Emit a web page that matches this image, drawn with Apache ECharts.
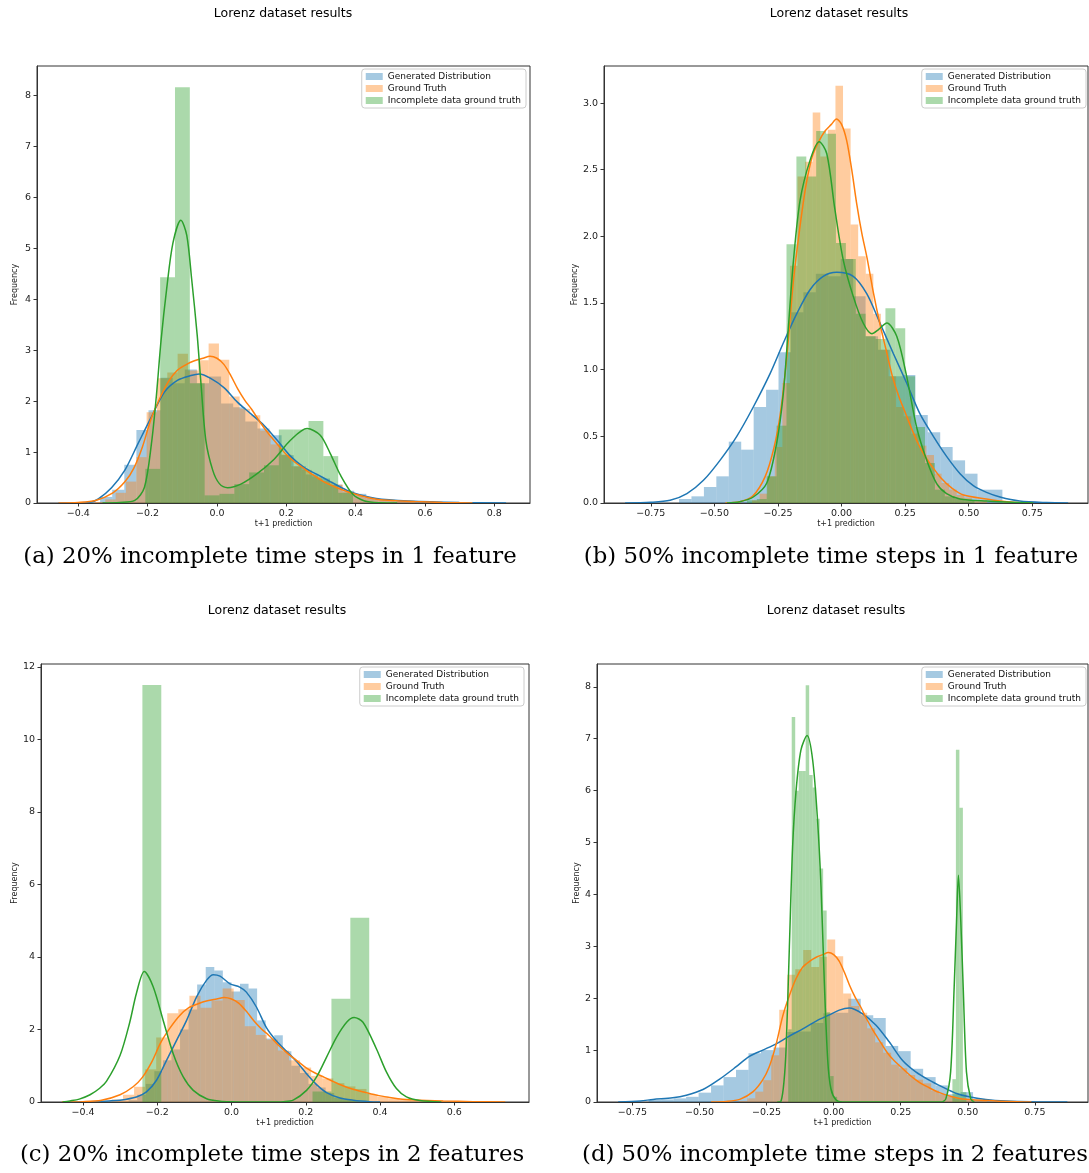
<!DOCTYPE html>
<html>
<head>
<meta charset="utf-8">
<title>Lorenz dataset results</title>
<script src="https://cdn.jsdelivr.net/npm/echarts@6/dist/echarts.min.js"></script>
<style>
  html, body { margin: 0; padding: 0; background: #fff; }
  #chart { width: 1089px; height: 1173px; }
</style>
</head>
<body>
<div id="chart"></div>
<script>
// series names / captions
const seriesNames = ['Generated Distribution', 'Ground Truth', 'Incomplete data ground truth'];
const captions = [
  '(a) 20% incomplete time steps in 1 feature',
  '(b) 50% incomplete time steps in 1 feature',
  '(c) 20% incomplete time steps in 2 features',
  '(d) 50% incomplete time steps in 2 features'
];

// ground truth is the same in every panel
const truthStart = -0.3518, truthWidth = 0.0298;
const truthHist = [0.02, 0.07, 0.2, 0.42, 0.9, 1.78, 2.45, 2.56, 2.93, 2.6, 2.8, 3.13, 2.81, 2.09, 1.85, 1.72,
  1.42, 1.15, 0.95, 0.72, 0.65, 0.52, 0.43, 0.36, 0.22, 0.15, 0.1, 0.06, 0.04, 0.02, 0.02];
const truthKde = [[-0.457, 0], [-0.4, 0.01], [-0.35, 0.05], [-0.3, 0.2], [-0.265, 0.42], [-0.24, 0.68], [-0.215, 1.1],
  [-0.19, 1.65], [-0.165, 2.05], [-0.14, 2.38], [-0.115, 2.6], [-0.09, 2.71], [-0.065, 2.79], [-0.04, 2.84],
  [-0.02, 2.88], [0, 2.84], [0.02, 2.72], [0.04, 2.5], [0.06, 2.24], [0.08, 2.02], [0.1, 1.84], [0.125, 1.58],
  [0.15, 1.35], [0.175, 1.15], [0.2, 0.95], [0.225, 0.8], [0.25, 0.68], [0.275, 0.56], [0.3, 0.45], [0.325, 0.36],
  [0.35, 0.29], [0.39, 0.19], [0.435, 0.11], [0.48, 0.06], [0.57, 0.03], [0.65, 0.01], [0.737, 0]];

// (a) 20% / 1 feature
const xRangeA = [-0.519, 0.903], yRangeA = [0, 8.575];
const xTicksA = [-0.4, -0.2, 0, 0.2, 0.4, 0.6, 0.8];
const yTicksA = [0, 1, 2, 3, 4, 5, 6, 7, 8];
const genStartA = -0.337, genWidthA = 0.0349;
const genHistA = [0.12, 0.26, 0.75, 1.43, 1.82, 2.46, 2.35, 2.62, 2.35, 2.48, 1.95, 1.88, 1.6, 1.46, 1.33, 0.94,
  0.72, 0.56, 0.48, 0.36, 0.24, 0.18, 0.1, 0.07, 0.05, 0.04, 0.03, 0.02];
const genKdeA = [[-0.457, 0], [-0.4, 0.005], [-0.362, 0.02], [-0.342, 0.08], [-0.304, 0.3], [-0.266, 0.64],
  [-0.228, 1.16], [-0.189, 1.69], [-0.151, 2.18], [-0.113, 2.41], [-0.075, 2.5], [-0.051, 2.53], [-0.017, 2.44],
  [0.021, 2.26], [0.059, 1.98], [0.098, 1.75], [0.136, 1.52], [0.174, 1.23], [0.212, 0.92], [0.251, 0.7],
  [0.289, 0.56], [0.327, 0.42], [0.36, 0.3], [0.392, 0.2], [0.459, 0.09], [0.555, 0.04], [0.699, 0.01], [0.834, 0]];
const incStartA = -0.2066, incWidthA = 0.0428;
const incHistA = [0.67, 4.43, 8.16, 2.35, 0.15, 0.18, 0.37, 0.6, 0.74, 1.44, 1.44, 1.61, 0.92, 0.2];
const incKdeA = [[-0.33, 0], [-0.28, 0.01], [-0.237, 0.05], [-0.209, 0.31], [-0.189, 1.16], [-0.175, 2.08],
  [-0.161, 3.2], [-0.145, 4.2], [-0.127, 5.1], [-0.104, 5.55], [-0.087, 5.25], [-0.073, 4.4], [-0.057, 3.3],
  [-0.046, 2.34], [-0.032, 1.23], [-0.012, 0.64], [0.007, 0.38], [0.031, 0.3], [0.069, 0.37], [0.117, 0.58],
  [0.165, 0.86], [0.212, 1.23], [0.26, 1.46], [0.298, 1.33], [0.327, 0.97], [0.356, 0.55], [0.392, 0.17],
  [0.426, 0.04], [0.47, 0.005], [0.52, 0]];

// (b) 50% / 1 feature
const xRangeB = [-0.934, 0.969], yRangeB = [0, 3.278];
const xTicksB = [-0.75, -0.5, -0.25, 0, 0.25, 0.5, 0.75];
const yTicksB = [0, 0.5, 1, 1.5, 2, 2.5, 3];
const genStartB = -0.639, genWidthB = 0.0489;
const genHistB = [0.03, 0.05, 0.12, 0.2, 0.46, 0.4, 0.72, 0.85, 1.13, 1.43, 1.58, 1.72, 1.7, 1.83, 1.55, 1.25,
  1.15, 0.95, 0.96, 0.66, 0.53, 0.42, 0.32, 0.22, 0.1, 0.1];
const genKdeB = [[-0.851, 0], [-0.75, 0.005], [-0.674, 0.02], [-0.608, 0.07], [-0.543, 0.17], [-0.478, 0.32],
  [-0.412, 0.5], [-0.347, 0.72], [-0.281, 0.97], [-0.229, 1.2], [-0.176, 1.42], [-0.124, 1.6], [-0.072, 1.7],
  [-0.019, 1.73], [0.046, 1.7], [0.099, 1.57], [0.151, 1.35], [0.204, 1.12], [0.256, 0.9], [0.308, 0.67],
  [0.361, 0.5], [0.413, 0.35], [0.466, 0.22], [0.518, 0.13], [0.57, 0.08], [0.623, 0.045], [0.7, 0.015],
  [0.806, 0.003], [0.891, 0]];
const incStartB = -0.372, incWidthB = 0.0389;
const incHistB = [0.02, 0.03, 0.2, 0.58, 1.94, 2.6, 2.45, 2.79, 2.77, 1.95, 1.83, 1.42, 1.25, 1.23, 1.46, 1.31,
  0.95, 0.57, 0.3, 0.1, 0.05, 0.03, 0.02];
const incKdeB = [[-0.451, 0], [-0.4, 0.01], [-0.347, 0.045], [-0.294, 0.15], [-0.255, 0.45], [-0.229, 0.82],
  [-0.209, 1.32], [-0.189, 1.82], [-0.163, 2.27], [-0.124, 2.57], [-0.088, 2.71], [-0.058, 2.62], [-0.026, 2.2],
  [0.007, 1.82], [0.046, 1.55], [0.085, 1.35], [0.119, 1.27], [0.145, 1.3], [0.178, 1.35], [0.217, 1.25],
  [0.256, 0.95], [0.295, 0.57], [0.335, 0.32], [0.374, 0.145], [0.413, 0.07], [0.466, 0.03], [0.57, 0.015], [0.754, 0]];

// (c) 20% / 2 features
const xRangeC = [-0.513, 0.801], yRangeC = [0, 12.08];
const xTicksC = [-0.4, -0.2, 0, 0.2, 0.4, 0.6];
const yTicksC = [0, 2, 4, 6, 8, 10, 12];
const genStartC = -0.277, genWidthC = 0.02306;
const genHistC = [0.05, 0.2, 0.5, 0.85, 1.15, 1.45, 2.0, 2.55, 3.24, 3.72, 3.63, 3.3, 3.05, 3.26, 3.13, 2.25,
  1.75, 1.84, 1.4, 1.0, 0.8, 0.5, 0.4, 0.25, 0.12, 0.07, 0.04];
const genKdeC = [[-0.435, 0], [-0.38, 0.01], [-0.33, 0.03], [-0.3, 0.05], [-0.256, 0.14], [-0.229, 0.28],
  [-0.202, 0.6], [-0.175, 1.15], [-0.148, 1.7], [-0.121, 2.25], [-0.094, 2.9], [-0.067, 3.36], [-0.049, 3.51],
  [-0.031, 3.47], [-0.004, 3.26], [0.022, 3.17], [0.04, 3.03], [0.067, 2.62], [0.094, 2.05], [0.121, 1.68],
  [0.148, 1.4], [0.175, 1.12], [0.202, 0.78], [0.229, 0.48], [0.256, 0.26], [0.292, 0.11], [0.328, 0.05],
  [0.372, 0.01], [0.4, 0]];
const incStartC = -0.24, incWidthC = 0.0509;
const incHistC = [11.5, 0, 0, 0, 0, 0, 0, 0, 0, 0.29, 2.85, 5.08];
const incKdeC = [[-0.455, 0], [-0.435, 0.03], [-0.41, 0.08], [-0.381, 0.2], [-0.355, 0.38], [-0.336, 0.58],
  [-0.3, 1.29], [-0.274, 2.2], [-0.256, 3.0], [-0.235, 3.6], [-0.211, 3.18], [-0.184, 2.25], [-0.157, 1.33],
  [-0.13, 0.69], [-0.103, 0.32], [-0.067, 0.09], [-0.031, 0.02], [0, 0.005], [0.05, 0], [0.103, 0], [0.14, 0.01],
  [0.166, 0.05], [0.202, 0.32], [0.229, 0.69], [0.256, 1.24], [0.283, 1.79], [0.31, 2.2], [0.33, 2.33],
  [0.354, 2.2], [0.39, 1.47], [0.417, 0.83], [0.444, 0.37], [0.471, 0.14], [0.507, 0.04], [0.565, 0]];

// (d) 50% / 2 features
const xRangeD = [-0.882, 0.948], yRangeD = [0, 8.44];
const xTicksD = [-0.75, -0.5, -0.25, 0, 0.25, 0.5, 0.75];
const yTicksD = [0, 1, 2, 3, 4, 5, 6, 7, 8];
const genStartD = -0.6894, genWidthD = 0.0465;
const genHistD = [0.04, 0.05, 0.07, 0.1, 0.18, 0.32, 0.48, 0.62, 0.94, 1.0, 1.05, 1.35, 1.36, 1.52, 1.71, 1.72,
  1.99, 1.67, 1.62, 1.08, 0.98, 0.64, 0.48, 0.32, 0.15, 0.19, 0.05, 0.03, 0.02, 0.02, 0.01];
const genKdeD = [[-0.803, 0], [-0.72, 0.02], [-0.673, 0.05], [-0.6, 0.08], [-0.549, 0.13], [-0.487, 0.24],
  [-0.425, 0.44], [-0.363, 0.68], [-0.314, 0.88], [-0.264, 1.0], [-0.214, 1.12], [-0.165, 1.27], [-0.115, 1.41],
  [-0.065, 1.56], [-0.016, 1.68], [0.021, 1.77], [0.058, 1.81], [0.108, 1.7], [0.158, 1.48], [0.207, 1.16],
  [0.257, 0.8], [0.306, 0.58], [0.356, 0.42], [0.405, 0.29], [0.455, 0.17], [0.505, 0.1], [0.567, 0.05],
  [0.641, 0.02], [0.74, 0.005], [0.871, 0]];
const incStartD = -0.1693, incWidthD = 0.01302;
const incHistD = [1.4, 7.42, 6.0, 6.38, 6.38, 8.03, 6.3, 6.06, 5.46, 4.5, 3.69, 1.73, 0.5, 0.1,
  0, 0, 0, 0, 0, 0, 0, 0, 0, 0, 0, 0, 0, 0, 0, 0, 0, 0, 0, 0, 0, 0, 0, 0, 0, 0, 0, 0, 0, 0, 0, 0, 0,
  0.44, 6.79, 5.67, 0.19];
const incKdeD = [[-0.21, 0], [-0.196, 0.02], [-0.185, 0.4], [-0.177, 1.06], [-0.165, 2.99], [-0.153, 4.91],
  [-0.14, 6.0], [-0.122, 6.78], [-0.099, 7.06], [-0.078, 6.58], [-0.06, 5.43], [-0.047, 4.14], [-0.035, 2.34],
  [-0.022, 0.8], [-0.01, 0.25], [0.009, 0.04], [0.033, 0], [0.2, 0], [0.4, 0], [0.418, 0.06], [0.436, 0.58],
  [0.449, 2.19], [0.458, 3.47], [0.465, 4.37], [0.474, 3.47], [0.483, 2.19], [0.495, 0.58], [0.511, 0.06], [0.524, 0]];

const FONT = 'DejaVu Sans';
const lineColors = ['#1f77b4', '#ff7f0e', '#2ca02c'];
const fillColors = ['rgba(31,119,180,0.4)', 'rgba(255,127,14,0.4)', 'rgba(44,160,44,0.4)'];
const axisColor = '#333';

// histogram bars as [x0, x1, height]
function bins(start, width, heights) {
  return heights.map((h, i) => [start + i * width, start + (i + 1) * width, h]);
}

function fmt(dec) {
  return v => (v < 0 ? '\u2212' : '') + Math.abs(v).toFixed(dec);
}

const panels = [
  {
    grid: { left: 37, top: 66, width: 493, height: 437 },
    xRange: xRangeA, yRange: yRangeA, xTicks: xTicksA, yTicks: yTicksA, xDec: 1, yDec: 0, yGap: 18,
    legend: { right: 563, top: 69 }, title: [283, 14], caption: [270, 557],
    hist: [bins(genStartA, genWidthA, genHistA), bins(truthStart, truthWidth, truthHist), bins(incStartA, incWidthA, incHistA)],
    kde: [genKdeA, truthKde, incKdeA]
  },
  {
    grid: { left: 604, top: 66, width: 484, height: 437 },
    xRange: xRangeB, yRange: yRangeB, xTicks: xTicksB, yTicks: yTicksB, xDec: 2, yDec: 1, yGap: 23,
    legend: { right: 3, top: 69 }, title: [839, 14], caption: [831, 557],
    hist: [bins(genStartB, genWidthB, genHistB), bins(truthStart, truthWidth, truthHist), bins(incStartB, incWidthB, incHistB)],
    kde: [genKdeB, truthKde, incKdeB]
  },
  {
    grid: { left: 41, top: 664, width: 488, height: 438 },
    xRange: xRangeC, yRange: yRangeC, xTicks: xTicksC, yTicks: yTicksC, xDec: 1, yDec: 0, yGap: 22,
    legend: { right: 565, top: 667 }, title: [277, 611], caption: [272, 1155],
    hist: [bins(genStartC, genWidthC, genHistC), bins(truthStart, truthWidth, truthHist), bins(incStartC, incWidthC, incHistC)],
    kde: [genKdeC, truthKde, incKdeC]
  },
  {
    grid: { left: 597, top: 664, width: 491, height: 438 },
    xRange: xRangeD, yRange: yRangeD, xTicks: xTicksD, yTicks: yTicksD, xDec: 2, yDec: 0, yGap: 16,
    legend: { right: 3, top: 667 }, title: [836, 611], caption: [835, 1155],
    hist: [bins(genStartD, genWidthD, genHistD), bins(truthStart, truthWidth, truthHist), bins(incStartD, incWidthD, incHistD)],
    kde: [genKdeD, truthKde, incKdeD]
  }
];

function barRenderer(fill) {
  return function (params, api) {
    const a = api.coord([api.value(0), api.value(2)]);
    const b = api.coord([api.value(1), 0]);
    return {
      type: 'rect',
      shape: { x: a[0], y: a[1], width: b[0] - a[0], height: b[1] - a[1] },
      style: { fill: fill }
    };
  };
}

const grid = [], xAxis = [], yAxis = [], series = [], legend = [], graphic = [];

panels.forEach((p, i) => {
  grid.push(Object.assign({ show: true, borderColor: axisColor, borderWidth: 1, backgroundColor: 'transparent' }, p.grid));
  xAxis.push({
    type: 'value', gridIndex: i, min: p.xRange[0], max: p.xRange[1], z: 10,
    axisLine: { show: true, onZero: false, lineStyle: { color: axisColor, width: 1 } },
    axisTick: { show: true, length: 3.5, customValues: p.xTicks, lineStyle: { color: axisColor } },
    axisLabel: { customValues: p.xTicks, formatter: fmt(p.xDec), fontSize: 9.5, fontFamily: FONT, color: '#222', margin: 6 },
    splitLine: { show: false },
    name: 't+1 prediction', nameLocation: 'middle', nameGap: 17,
    nameTextStyle: { fontSize: 8, fontFamily: FONT, color: '#222' }
  });
  yAxis.push({
    type: 'value', gridIndex: i, min: p.yRange[0], max: p.yRange[1], z: 10,
    axisLine: { show: true, onZero: false, lineStyle: { color: axisColor, width: 1 } },
    axisTick: { show: true, length: 3.5, customValues: p.yTicks, lineStyle: { color: axisColor } },
    axisLabel: { customValues: p.yTicks, formatter: fmt(p.yDec), fontSize: 9.5, fontFamily: FONT, color: '#222', margin: 6 },
    splitLine: { show: false },
    name: 'Frequency', nameLocation: 'middle', nameRotate: 90, nameGap: p.yGap,
    nameTextStyle: { fontSize: 8, fontFamily: FONT, color: '#222' }
  });
  for (let s = 0; s < 3; s++) {
    series.push({
      type: 'custom', name: seriesNames[s], xAxisIndex: i, yAxisIndex: i,
      renderItem: barRenderer(fillColors[s]),
      encode: { x: [0, 1], y: 2 },
      itemStyle: { color: fillColors[s] },
      data: p.hist[s], silent: true, clip: true
    });
    series.push({
      type: 'line', name: seriesNames[s] + ' kde', xAxisIndex: i, yAxisIndex: i,
      data: p.kde[s], showSymbol: false, smooth: 0.3, silent: true, clip: true,
      lineStyle: { color: lineColors[s], width: 1.5 }, itemStyle: { color: lineColors[s] }
    });
  }
  legend.push({
    data: seriesNames.map((n, s) => ({ name: n, icon: 'rect', itemStyle: { color: fillColors[s], borderWidth: 0 } })),
    orient: 'vertical', right: p.legend.right, top: p.legend.top,
    itemWidth: 17, itemHeight: 7, itemGap: 3, selectedMode: false,
    textStyle: { fontSize: 9, fontFamily: FONT, color: '#111' },
    backgroundColor: 'rgba(255,255,255,0.8)', borderColor: '#ccc', borderWidth: 1, borderRadius: 3,
    padding: [3, 5, 3, 4]
  });
  graphic.push({
    type: 'text', x: p.title[0], y: p.title[1],
    style: { text: 'Lorenz dataset results', font: '12.5px "DejaVu Sans"', fill: '#000', textAlign: 'center', textVerticalAlign: 'middle' }
  });
  graphic.push({
    type: 'text', x: p.caption[0], y: p.caption[1],
    style: { text: captions[i], font: '22.8px "DejaVu Serif"', fill: '#000', textAlign: 'center', textVerticalAlign: 'middle' }
  });
});

const chart = echarts.init(document.getElementById('chart'));
chart.setOption({
  animation: false,
  backgroundColor: '#fff',
  grid: grid,
  xAxis: xAxis,
  yAxis: yAxis,
  legend: legend,
  graphic: graphic,
  series: series
});
</script>
</body>
</html>
